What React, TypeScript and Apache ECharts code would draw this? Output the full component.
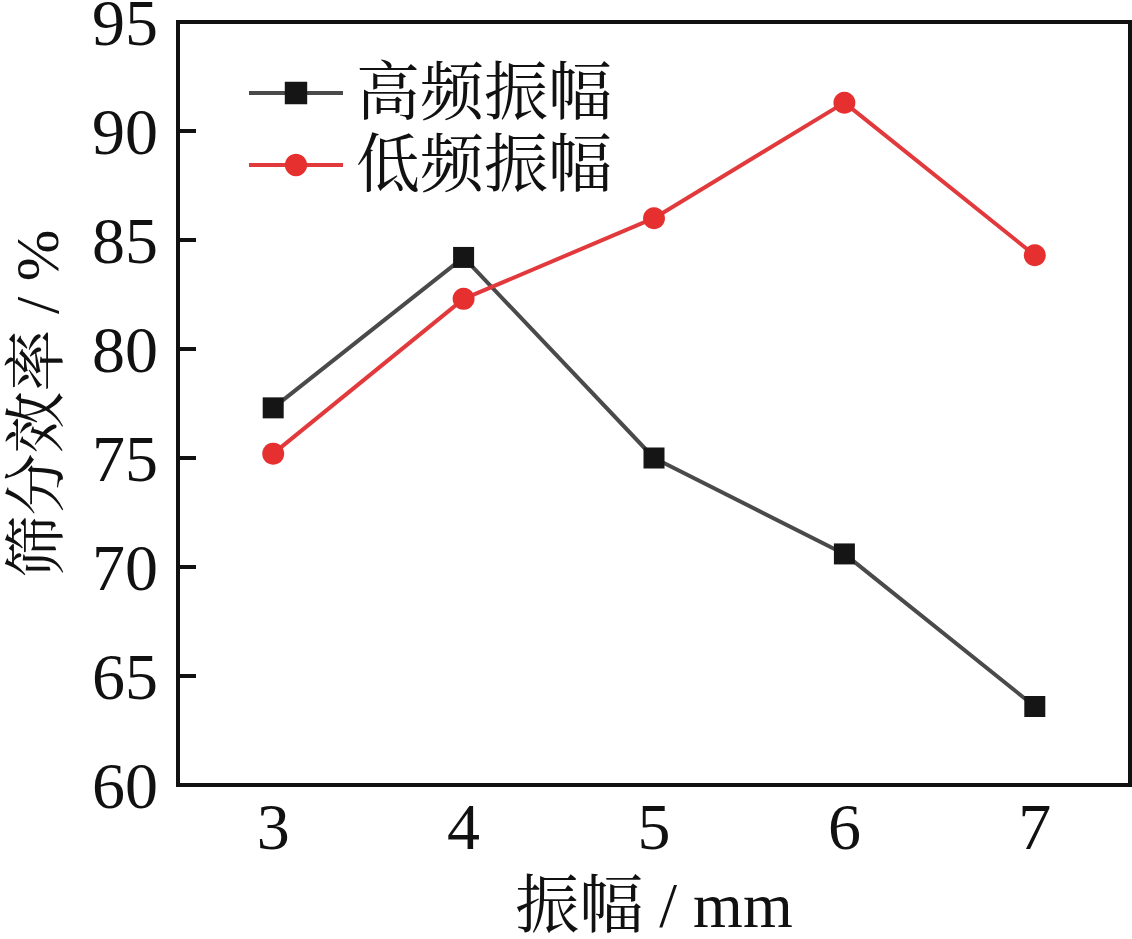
import React, { useEffect, useRef } from "react";
import * as echarts from "echarts";

const categories = ["3", "4", "5", "6", "7"];
const highFreq = [77.3, 84.2, 75.0, 70.6, 63.6];
const lowFreq = [75.2, 82.3, 86.0, 91.3, 84.3];
const seriesNames = ["高频振幅", "低频振幅"];

const FONT = "'Liberation Serif', 'Times New Roman', 'Noto Serif CJK SC', 'Noto Sans CJK SC', serif";

export default function App() {
  const ref = useRef<HTMLDivElement>(null);
  useEffect(() => {
    if (!ref.current) return;
    const chart = echarts.init(ref.current, undefined, { renderer: "svg" });
    chart.setOption({
      animation: false,
      backgroundColor: "#fff",
      textStyle: { fontFamily: FONT },
      grid: {
        left: 178,
        right: 2,
        top: 22,
        bottom: 154,
        show: true,
        borderColor: "#111",
        borderWidth: 4,
        containLabel: false,
        outerBoundsMode: "none",
      },
      legend: {
        data: seriesNames,
        orient: "vertical",
        left: 247,
        top: 61,
        itemWidth: 94,
        itemHeight: 28,
        itemGap: 8,
        padding: 0,
        lineStyle: { width: 4 },
        textStyle: {
          fontSize: 64,
          color: "#111",
          fontFamily: FONT,
          padding: [0, 0, 0, 8],
        },
      },
      xAxis: {
        type: "category",
        data: categories,
        boundaryGap: true,
        name: "振幅 / mm",
        nameLocation: "middle",
        nameGap: 88,
        nameTextStyle: { fontSize: 64, color: "#111", fontFamily: FONT },
        axisLine: { lineStyle: { color: "#111", width: 4 } },
        axisTick: {
          inside: true,
          alignWithLabel: true,
          length: 18,
          lineStyle: { color: "#111", width: 4 },
        },
        axisLabel: { fontSize: 66, color: "#111", margin: 8, fontFamily: FONT },
        splitLine: { show: false },
      },
      yAxis: {
        type: "value",
        min: 60,
        max: 95,
        interval: 5,
        name: "筛分效率 / %",
        nameLocation: "middle",
        nameGap: 110,
        nameTextStyle: { fontSize: 62, color: "#111", fontFamily: FONT },
        axisLine: { show: true, lineStyle: { color: "#111", width: 4 } },
        axisTick: {
          show: true,
          inside: true,
          length: 18,
          lineStyle: { color: "#111", width: 4 },
        },
        axisLabel: { fontSize: 66, color: "#111", margin: 20, fontFamily: FONT },
        splitLine: { show: false },
      },
      series: [
        {
          name: seriesNames[0],
          type: "line",
          data: highFreq,
          symbol: "rect",
          symbolSize: 21,
          lineStyle: { color: "#4a4a4a", width: 4 },
          itemStyle: { color: "#151515" },
        },
        {
          name: seriesNames[1],
          type: "line",
          data: lowFreq,
          symbol: "circle",
          symbolSize: 22,
          lineStyle: { color: "#e23a3c", width: 4 },
          itemStyle: { color: "#e5302f" },
        },
      ],
    });
    return () => chart.dispose();
  }, []);
  return (
    <div
      ref={ref}
      style={{ position: "fixed", left: 0, top: 0, width: 1132, height: 939 }}
    />
  );
}
